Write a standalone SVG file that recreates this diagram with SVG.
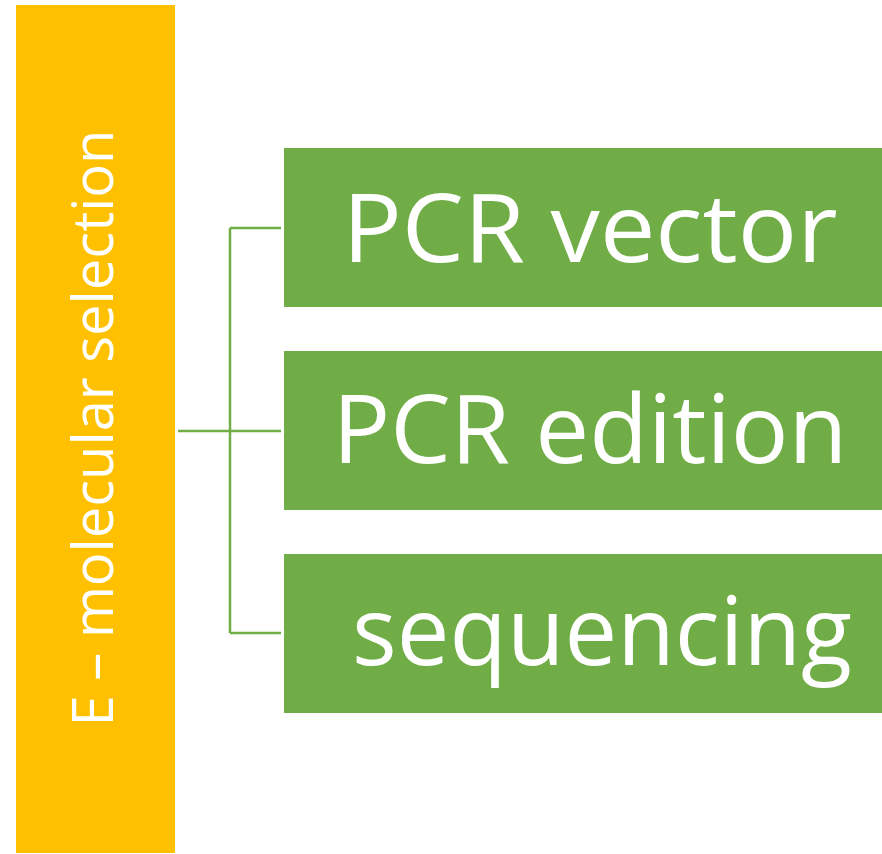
<svg xmlns="http://www.w3.org/2000/svg" width="882" height="854" viewBox="0 0 882 854">
  <style>
    .head { fill: #FFC000; }
    .step { fill: #70AD47; }
    .label { fill: #FFFFFF; font-family: "Open Sans", "Liberation Sans", sans-serif; }
    .big { font-size: 96px; }
    .side { font-size: 56px; }
    .link { fill: none; stroke: #70AD47; stroke-width: 2.5; }
  </style>
  <rect width="882" height="854" fill="#FFFFFF"/>
  <g id="node-selection">
    <rect class="head" x="16" y="5" width="159" height="848"/>
    <text class="label side" transform="translate(113,428) rotate(-90)" text-anchor="middle" textLength="597" lengthAdjust="spacingAndGlyphs">E – molecular selection</text>
  </g>
  <g id="connectors">
    <path class="link" d="M178,431 H281 M230,228 V633 M230,228 H281 M230,633 H281"/>
  </g>
  <g id="node-pcr-vector">
    <rect class="step" x="284" y="148" width="598" height="159"/>
    <text class="label big" x="590" y="262" text-anchor="middle" textLength="495" lengthAdjust="spacingAndGlyphs">PCR vector</text>
  </g>
  <g id="node-pcr-edition">
    <rect class="step" x="284" y="351" width="598" height="159"/>
    <text class="label big" x="590" y="463" text-anchor="middle" textLength="515" lengthAdjust="spacingAndGlyphs">PCR edition</text>
  </g>
  <g id="node-sequencing">
    <rect class="step" x="284" y="554" width="598" height="159"/>
    <text class="label big" x="602" y="665" text-anchor="middle" textLength="500" lengthAdjust="spacingAndGlyphs">sequencing</text>
  </g>
</svg>
